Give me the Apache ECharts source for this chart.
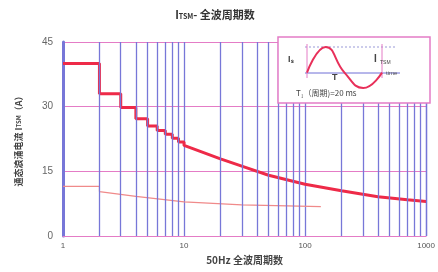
<!DOCTYPE html>
<html lang="zh">
<head>
    <meta charset="UTF-8">
    <title>ITSM - 全波周期数</title>
    <script src="https://cdn.jsdelivr.net/npm/echarts@6/dist/echarts.min.js"></script>
    <style>
        html, body { margin: 0; padding: 0; background: #fff; }
        #chart { width: 438px; height: 272px; }
    </style>
</head>
<body>
<div id="chart"></div>
<script type="text/javascript">
    // 主曲线：通态浪涌电流 vs 全波周期数（前10个周期为阶梯）
    const mainCycles = [1, 2, 2, 3, 3, 4, 4, 5, 5, 6, 6, 7, 7, 8, 8, 9, 9, 10, 10, 20, 30, 50, 100, 200, 400, 700, 1000];
    const mainCurrent = [40, 40, 33, 33, 29.8, 29.8, 27.2, 27.2, 25.5, 25.5, 24.5, 24.5, 23.6, 23.6, 22.7, 22.7, 21.8, 21.8, 21, 17.9, 16.2, 14.1, 12, 10.5, 9.1, 8.4, 8];
    // 下方细线
    const lowCycles = [1, 2, 2, 4, 10, 30, 135];
    const lowCurrent = [11.5, 11.5, 10.3, 9.2, 7.9, 7.2, 6.8];
    // 纵向网格线位置
    const gridCycles = [2, 3, 4, 5, 6, 7, 8, 9, 20, 30, 40, 50, 60, 70, 80, 90, 200, 300, 400, 500, 600, 700, 800, 900, 1000];
    // 插图中的正弦波（一个周期）
    const sinePhase = [0, 0.25, 0.5, 0.75, 1];
    const sineValue = [0, 1, 0, -0.6, 0];

    const pink = '#e47cc6';
    const blue = '#7777d8';
    const red = '#ee2a48';

    let myChart = echarts.init(document.getElementById('chart'));
    let option = {
        backgroundColor: '#fff',
        animation: false,
        title: {
            text: 'I{sub|TSM}- 全波周期数',
            left: 210,
            textAlign: 'center',
            top: 4,
            textStyle: {
                fontSize: 11, fontWeight: 'bold', color: '#333', fontFamily: 'Noto Sans CJK SC',
                rich: { sub: { fontSize: 7, fontWeight: 'bold', color: '#333', verticalAlign: 'bottom' } }
            }
        },
        grid: [
            { left: 63, right: 8, top: 42, bottom: 36 },
            { left: 307, width: 75, top: 47, height: 41 }
        ],
        xAxis: [{
            type: 'log', logBase: 10, min: 1, max: 1000,
            name: '50Hz 全波周期数', nameLocation: 'middle', nameGap: 17,
            nameTextStyle: { fontSize: 10, fontWeight: 'bold', color: '#444', fontFamily: 'Noto Sans CJK SC' },
            axisLine: { lineStyle: { color: pink } },
            axisTick: { show: false },
            axisLabel: { fontSize: 8, color: '#555', margin: 6, formatter: v => String(Math.round(v)) },
            splitLine: { show: true, lineStyle: { color: blue, width: 1.3 } }
        }, {
            gridIndex: 1, type: 'value', min: 0, max: 1, show: false
        }],
        yAxis: [{
            type: 'value', min: 0, max: 45, interval: 15,
            name: '通态浪涌电流 I{sub|TSM}（A）', nameLocation: 'middle', nameGap: 40, nameRotate: 90,
            nameTextStyle: {
                fontSize: 9, fontWeight: 'bold', color: '#444', fontFamily: 'Noto Sans CJK SC',
                rich: { sub: { fontSize: 6, fontWeight: 'bold', color: '#444' } }
            },
            axisLine: { show: true, lineStyle: { color: blue, width: 3 } },
            axisTick: { show: false },
            axisLabel: { fontSize: 10, color: '#666', margin: 10 },
            splitLine: { lineStyle: { color: pink, width: 1.2 } }
        }, {
            gridIndex: 1, type: 'value', min: -0.6, max: 1, show: false
        }],
        series: [
            {
                name: '网格', type: 'line', data: [], silent: true,
                markLine: {
                    symbol: 'none', silent: true, label: { show: false },
                    lineStyle: { color: blue, width: 1.3, type: 'solid' },
                    data: gridCycles.map(v => ({ xAxis: v }))
                }
            },
            {
                name: '低线', type: 'line', symbol: 'none', z: 3,
                lineStyle: { color: '#f08a8a', width: 1.2 },
                data: lowCycles.map((c, i) => [c, lowCurrent[i]])
            },
            {
                name: 'ITSM', type: 'line', symbol: 'none', z: 4,
                lineStyle: { color: red, width: 3 },
                data: mainCycles.map((c, i) => [c, mainCurrent[i]])
            },
            {
                name: '正弦', type: 'line', xAxisIndex: 1, yAxisIndex: 1, symbol: 'none', smooth: true, z: 12,
                lineStyle: { color: '#e8305a', width: 2 },
                data: sinePhase.map((p, i) => [p, sineValue[i]])
            }
        ],
        graphic: [
            {
                type: 'rect', z: 10,
                shape: { x: 278, y: 37, width: 152, height: 66 },
                style: { fill: '#fff', stroke: pink, lineWidth: 1.5 }
            },
            {
                type: 'line', z: 11,
                shape: { x1: 305, y1: 73, x2: 400, y2: 73 },
                style: { stroke: '#6f6fd6', lineWidth: 1 }
            },
            {
                type: 'line', z: 11,
                shape: { x1: 305, y1: 47, x2: 395, y2: 47 },
                style: { stroke: '#9a9ad8', lineWidth: 1, lineDash: [2, 2] }
            },
            {
                type: 'line', z: 11,
                shape: { x1: 307, y1: 44, x2: 307, y2: 78 },
                style: { stroke: pink, lineWidth: 1 }
            },
            {
                type: 'line', z: 11,
                shape: { x1: 382, y1: 44, x2: 382, y2: 78 },
                style: { stroke: pink, lineWidth: 1 }
            },
            {
                type: 'text', z: 12, x: 288, y: 55,
                style: { text: 'Iₛ', fontSize: 9, fontWeight: 'bold', fill: '#444' }
            },
            {
                type: 'text', z: 12, x: 374, y: 54,
                style: { text: 'I', fontSize: 10, fontWeight: 'bold', fill: '#444' }
            },
            {
                type: 'text', z: 12, x: 380, y: 60,
                style: { text: 'TSM', fontSize: 5, fill: '#444' }
            },
            {
                type: 'text', z: 12, x: 332, y: 73,
                style: { text: 'T', fontSize: 9, fontWeight: 'bold', fill: '#444' }
            },
            {
                type: 'text', z: 12, x: 386, y: 70,
                style: { text: 'time', fontSize: 6, fill: '#555' }
            },
            {
                type: 'text', z: 12, x: 296, y: 89,
                style: { text: 'T₁（周期)=20 ms', fontSize: 8, fill: '#444', fontFamily: 'Noto Sans CJK SC' }
            }
        ]
    };
    myChart.setOption(option);
</script>
</body>
</html>
